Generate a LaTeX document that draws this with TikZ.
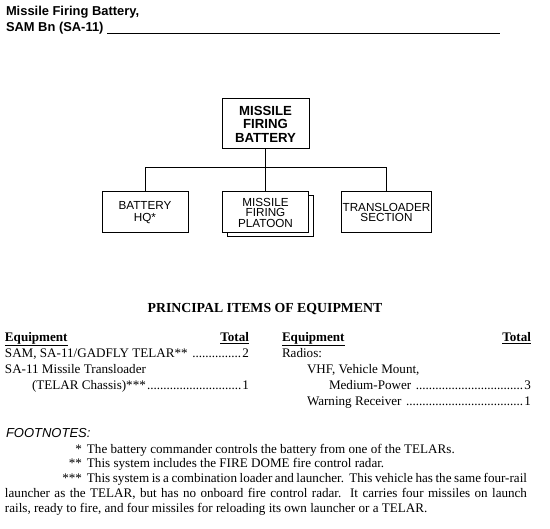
\documentclass[tikz,border=0pt]{standalone}
\usepackage{fontspec}
\setmainfont{Liberation Serif}
\setsansfont{Liberation Sans}
\newcommand{\myleaders}{\cleaders\hbox to 3.25pt{\hss.\hss}\hfill}
\newcommand{\rowline}[3]{\makebox[#1][l]{#2\myleaders #3}}
\begin{document}
\begin{tikzpicture}[x=1pt,y=-1pt,
  txt/.style={inner sep=0pt, outer sep=0pt, anchor=base west, font=\fontsize{13.1}{14.8}\selectfont},
  topbox/.style={draw, line width=1pt, fill=white, align=center, inner sep=0pt,
    minimum width=87pt, minimum height=50pt, font=\sffamily\bfseries\fontsize{13.2}{13.5}\selectfont},
  unitbox/.style={draw, line width=1pt, fill=white, align=center, inner sep=0pt,
    minimum height=41pt, font=\sffamily\fontsize{11.7}{10.5}\selectfont},
  conn/.style={line width=1pt}]
\useasboundingbox (0,0) rectangle (550,529);

% title
\node[txt, font=\sffamily\bfseries\fontsize{12.9}{15}\selectfont] (t1) at (6,16) {Missile Firing Battery,};
\node[txt, font=\sffamily\bfseries\fontsize{12.9}{15}\selectfont] (t2) at (6,32) {SAM Bn (SA-11)};
\coordinate (ulend) at (500,33);
\draw[line width=0.9pt] (t2.base east) ++(4,1) coordinate (ulstart) -- (ulstart -| ulend);

% org chart
\node[topbox] (top) at (265.5,124) {MISSILE\\FIRING\\BATTERY};
\node[unitbox, minimum width=86pt, font=\sffamily\fontsize{11.7}{12}\selectfont] (hq) at (145,212.5) {BATTERY\\HQ*};
\node[unitbox, minimum width=86pt] (plsh) at (270,216.5) {};
\node[unitbox, minimum width=86pt] (pl) at (265.5,212.5) {MISSILE\\FIRING\\PLATOON};
\node[unitbox, minimum width=90pt] (tr) at (386.5,212.5) {TRANSLOADER\\SECTION};
\coordinate (bus) at (0,168);
\draw[conn] (top.south) -- (pl.north);
\draw[conn] (hq.north) -- (hq.north |- bus) -- (tr.north |- bus) -- (tr.north);

% equipment
\node[txt, anchor=base, font=\bfseries\fontsize{13.8}{15}\selectfont] (pie) at (265,312.5) {PRINCIPAL ITEMS OF EQUIPMENT};

\node[txt] (le) at (5,341.5) {\underline{\textbf{Equipment}}};
\node[txt, anchor=base east] (lt) at (249,341.5) {\underline{\textbf{Total}}};
\node[txt] (l1) at (5,357.5) {\rowline{244pt}{SAM, SA-11/GADFLY TELAR** }{2}};
\node[txt] (l2) at (5,373.5) {SA-11 Missile Transloader};
\node[txt] (l3) at (32,389.5) {\rowline{217pt}{(TELAR Chassis)***}{1}};

\node[txt] (re) at (282,341.5) {\underline{\textbf{Equipment}}};
\node[txt, anchor=base east] (rt) at (531,341.5) {\underline{\textbf{Total}}};
\node[txt] (r1) at (282,357.5) {Radios:};
\node[txt] (r2) at (307,373.5) {VHF, Vehicle Mount,};
\node[txt] (r3) at (329,389.5) {\rowline{202pt}{Medium-Power }{3}};
\node[txt] (r4) at (307,405.5) {\rowline{224pt}{Warning Receiver }{1}};

% footnotes
\node[txt, font=\sffamily\itshape\fontsize{13}{15}\selectfont] (fn) at (6,437.5) {FOOTNOTES:};
\node[txt] (f1) at (5,453.5) {\makebox[77pt][r]{*}\hspace{5pt}The battery commander controls the battery from one of the TELARs.};
\node[txt] (f2) at (5,468) {\makebox[77pt][r]{**}\hspace{5pt}This system includes the FIRE DOME fire control radar.};
\node[txt, text width=522pt, align=justify] (f3) at (5,482.8) {\noindent\makebox[77pt][r]{***}\hspace{5pt}This system is a combination loader and launcher.\ \ This vehicle has the same four-rail\linebreak launcher as the TELAR, but has no onboard fire control radar.\ \ It carries four missiles on launch\linebreak rails, ready to fire, and four missiles for reloading its own launcher or a TELAR.};
\end{tikzpicture}
\end{document}
